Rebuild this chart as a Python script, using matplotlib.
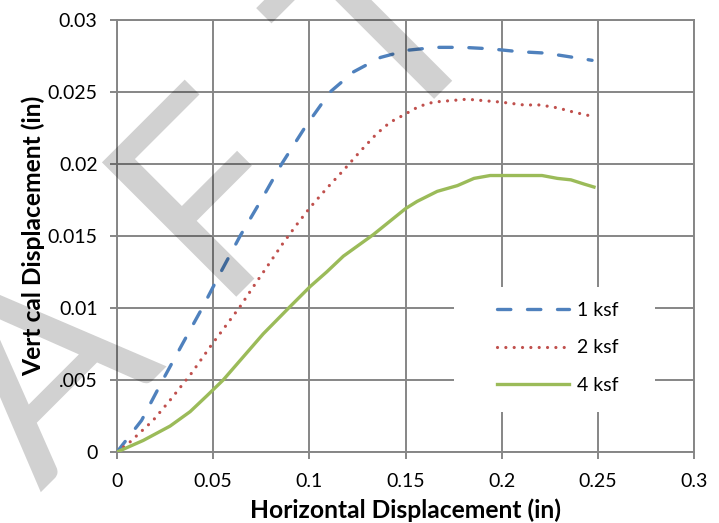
import matplotlib
matplotlib.use("Agg")
import matplotlib.pyplot as plt
from matplotlib.patches import Rectangle, PathPatch
from matplotlib.textpath import TextPath
from matplotlib.font_manager import FontProperties
from matplotlib.transforms import Affine2D

plt.rcParams['font.family'] = ['Lato', 'DejaVu Sans']

# Data (inches)
x_1ksf = [0, 0.0128, 0.0238, 0.034, 0.0443, 0.054, 0.064, 0.075, 0.0856, 0.098,
          0.1108, 0.123, 0.137, 0.151, 0.1656, 0.180, 0.194, 0.209, 0.223, 0.2375, 0.247]
y_1ksf = [0, 0.0022, 0.005, 0.0075, 0.01, 0.0125, 0.015, 0.0175, 0.02, 0.0226,
          0.025, 0.0264, 0.0274, 0.0279, 0.0281, 0.0281, 0.0280, 0.0278, 0.0277, 0.0274, 0.0272]

x_2ksf = [0, 0.0068, 0.0188, 0.0276, 0.0389, 0.0484, 0.0562, 0.064, 0.071, 0.0787,
          0.0858, 0.0935, 0.1005, 0.109, 0.118, 0.1266, 0.135, 0.142, 0.149, 0.157,
          0.1646, 0.1734, 0.182, 0.1906, 0.1995, 0.2115, 0.22, 0.229, 0.2375, 0.2475]
y_2ksf = [0, 0.0007, 0.0022, 0.0036, 0.0055, 0.0073, 0.0087, 0.0101, 0.0115, 0.013,
          0.0144, 0.0158, 0.017, 0.0183, 0.0196, 0.0209, 0.0221, 0.0229, 0.0234, 0.024,
          0.0243, 0.0244, 0.0245, 0.0244, 0.0243, 0.0241, 0.0241, 0.0239, 0.0236, 0.0233]

x_4ksf = [0, 0.0136, 0.0276, 0.038, 0.0467, 0.0552, 0.0656, 0.076, 0.09, 0.1005,
          0.109, 0.1177, 0.1333, 0.15, 0.156, 0.1665, 0.177, 0.1856, 0.194, 0.2047,
          0.221, 0.229, 0.236, 0.243, 0.248]
y_4ksf = [0, 0.0008, 0.0018, 0.0028, 0.0039, 0.005, 0.0066, 0.0082, 0.0101, 0.0115,
          0.0125, 0.0136, 0.0151, 0.0169, 0.0174, 0.0181, 0.0185, 0.019, 0.0192, 0.0192,
          0.0192, 0.019, 0.0189, 0.0186, 0.0184]

xticks = [0, 0.05, 0.1, 0.15, 0.2, 0.25, 0.3]
xticklabels = ['0', '0.05', '0.1', '0.15', '0.2', '0.25', '0.3']
yticks = [0, 0.005, 0.01, 0.015, 0.02, 0.025, 0.03]
yticklabels = ['0', '.005', '0.01', '0.015', '0.02', '0.025', '0.03']

W, H = 719, 523
fig = plt.figure(figsize=(W / 100, H / 100), dpi=100)
ax = fig.add_axes([117 / W, 1 - 452 / H, 577 / W, 432 / H])

gridc = '#868686'
ax.set_axisbelow(True)
ax.grid(True, color=gridc, lw=1.4)
for s in ax.spines.values():
    s.set_color(gridc)
    s.set_linewidth(1.4)

ax.plot(x_1ksf, y_1ksf, color='#4F81BD', lw=2.4, dashes=(4.0, 5.0),
        dash_capstyle='round', label='1 ksf', zorder=3)
ax.plot(x_2ksf, y_2ksf, color='#C0504D', lw=2.3, dashes=(0.01, 2.6),
        dash_capstyle='round', label='2 ksf', zorder=3)
ax.plot(x_4ksf, y_4ksf, color='#9BBB59', lw=2.4, label='4 ksf', zorder=3)

ax.set_xlim(0, 0.3)
ax.set_ylim(0, 0.03)
ax.set_xticks(xticks)
ax.set_xticklabels(xticklabels)
ax.set_yticks(yticks)
ax.set_yticklabels(yticklabels)
ax.tick_params(direction='out', length=5, width=1.4, color=gridc,
               labelsize=14, labelcolor='black')
ax.tick_params(axis='y', pad=9)
ax.tick_params(axis='x', pad=10)

ax.set_xlabel('Horizontal Displacement (in)', fontsize=17.7, fontweight='bold', labelpad=6)
ax.set_ylabel('Vert cal Displacement (in)', fontsize=17.7, fontweight='bold', labelpad=2)

# white legend box
ax.add_patch(Rectangle(((454 - 117) / 577, (452 - 412) / 432), 201 / 577, 125 / 432,
                       transform=ax.transAxes, facecolor='white', edgecolor='none', zorder=1.5))
ax.legend(loc='upper left', bbox_to_anchor=((497 - 117) / 577, (452 - 302) / 432),
          frameon=False, fontsize=14, borderpad=0, borderaxespad=0,
          handlelength=3.7, handletextpad=0.4, labelspacing=1.05)

# DRAFT watermark, letters laid along a 45 degree baseline (figure pixels)
fp = FontProperties(family='Lato')
hbox = TextPath((0, 0), 'H', size=100, prop=fp).get_extents()
scale = 190 / hbox.height
offsets = [677, 437, 197, -49, -283]
to_fig = Affine2D().scale(1 / W, 1 / H) + fig.transFigure
for ch, t in zip("DRAFT", offsets):
    tp = TextPath((0, 0), ch, size=100, prop=fp)
    e = tp.get_extents()
    bx = 243 - 0.7071 * t
    by = H - (290 + 0.7071 * t)
    tr = Affine2D().translate(-(e.x0 + e.x1) / 2, 0).scale(scale).rotate_deg(45).translate(bx, by)
    fig.add_artist(PathPatch(tr.transform_path(tp), transform=to_fig,
                             facecolor='black', edgecolor='none', alpha=0.18, zorder=10))

fig.savefig('out.png', dpi=100)
